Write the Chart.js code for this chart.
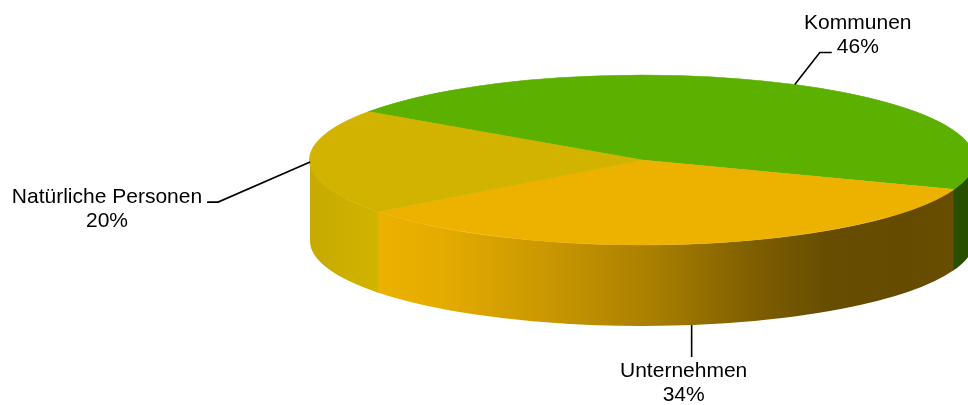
<!DOCTYPE html>
<html>
<head>
<meta charset="utf-8">
<script src="https://cdn.jsdelivr.net/npm/chart.js@4/dist/chart.umd.min.js"></script>
<style>
  html, body { margin: 0; padding: 0; background: #ffffff; }
  #wrap { position: relative; width: 968px; height: 405px; }
</style>
</head>
<body>
<div id="wrap"><canvas id="chart"></canvas></div>
<script>
// Shares of the three owner groups
const categories = ['Kommunen', 'Unternehmen', 'Natürliche Personen'];
const shares = [46, 34, 20];

// Slice colours (top face)
const sliceColors = ['#5CB000', '#EDB200', '#D1B300'];

// Flattened pie geometry: top face ellipse and wall height
const PIE = { cx: 642, cy: 160, rx: 332, ry: 85, depth: 81 };

// Lighting across the outer wall, left to right: [position, brightness]
const wallLight = [[0, 0.95], [0.1, 1.0], [0.2, 0.96], [0.36, 0.85], [0.52, 0.71],
                   [0.67, 0.53], [0.78, 0.43], [0.9, 0.42], [1, 0.45]];

// Leader line and label placement per slice
const labelLayout = [
  { rim: 'top',    elbow: [25, -32], run: 12,  side: 'right' },
  { rim: 'bottom', elbow: [0, 32],   run: 0,   side: 'below' },
  { rim: 'top',    elbow: [-92, 40], run: -11, side: 'left' }
];

const FONT = '21px "Liberation Sans", Arial, sans-serif';
const LINE_H = 24;

function shade(hex, f) {
  const n = parseInt(hex.slice(1), 16);
  const r = Math.round(((n >> 16) & 255) * f);
  const g = Math.round(((n >> 8) & 255) * f);
  const b = Math.round((n & 255) * f);
  return `rgb(${r},${g},${b})`;
}

const pie3d = {
  id: 'pie3d',
  beforeDatasetsDraw(chart) {
    const ctx = chart.ctx;
    const meta = chart.getDatasetMeta(0);
    const { cx, cy, rx, ry, depth } = PIE;

    // outer wall: only the front half (0..PI) is visible
    meta.data.forEach((arc, i) => {
      const a0 = arc.startAngle, a1 = arc.endAngle;
      for (let k = -1; k <= 2; k++) {
        const lo = 2 * Math.PI * k, hi = lo + Math.PI;
        const s = Math.max(a0, lo);
        // small overlap so neighbouring wall pieces leave no seam
        const e = Math.min(a1 + 0.006, hi);
        if (e <= s) continue;
        const grad = ctx.createLinearGradient(cx - rx, 0, cx + rx, 0);
        wallLight.forEach(([t, f]) => grad.addColorStop(t, shade(sliceColors[i], f)));
        ctx.beginPath();
        ctx.ellipse(cx, cy, rx, ry, 0, s, e);
        ctx.ellipse(cx, cy + depth, rx, ry, 0, e, s, true);
        ctx.closePath();
        ctx.fillStyle = grad;
        ctx.fill();
      }
    });

    // map the circular layout onto the flattened top face
    const ref = meta.data[0];
    ctx.save();
    ctx.translate(cx, cy);
    ctx.scale(rx / ref.outerRadius, ry / ref.outerRadius);
    ctx.translate(-ref.x, -ref.y);
  },
  afterDatasetsDraw(chart) {
    const ctx = chart.ctx;
    ctx.restore();

    const meta = chart.getDatasetMeta(0);
    const { cx, cy, rx, ry, depth } = PIE;
    ctx.save();
    ctx.font = FONT;
    ctx.fillStyle = '#000';
    ctx.strokeStyle = '#000';
    ctx.lineWidth = 1.6;
    ctx.textBaseline = 'alphabetic';
    ctx.textAlign = 'center';

    meta.data.forEach((arc, i) => {
      const lay = labelLayout[i];
      const mid = (arc.startAngle + arc.endAngle) / 2;
      const ax = cx + rx * Math.cos(mid);
      const ay = cy + ry * Math.sin(mid) + (lay.rim === 'bottom' ? depth : 0);
      const bx = ax + lay.elbow[0], by = ay + lay.elbow[1];
      const ex = bx + lay.run, ey = by;

      ctx.beginPath();
      ctx.moveTo(ax, ay);
      ctx.lineTo(bx, by);
      if (lay.run !== 0) ctx.lineTo(ex, ey);
      ctx.stroke();

      const line1 = categories[i];
      const line2 = shares[i] + '%';
      const w1 = ctx.measureText(line1).width;
      const w2 = ctx.measureText(line2).width;
      let tx, b1;
      if (lay.side === 'right') {
        tx = ex + 5 + w2 / 2;
        b1 = ey - LINE_H;
      } else if (lay.side === 'left') {
        tx = ex - 5 - w1 / 2;
        b1 = ey + 1;
      } else {
        tx = ex - 8;
        b1 = ey + 20;
      }
      ctx.fillText(line1, tx, b1);
      ctx.fillText(line2, tx, b1 + LINE_H);
    });
    ctx.restore();
  }
};

new Chart(document.getElementById('chart'), {
  type: 'pie',
  data: {
    labels: categories,
    datasets: [{
      data: shares,
      backgroundColor: sliceColors,
      borderColor: sliceColors,
      borderWidth: 1,
      clip: false
    }]
  },
  options: {
    responsive: true,
    maintainAspectRatio: false,
    animation: false,
    events: [],
    rotation: -55.4,
    layout: { padding: 20 },
    plugins: {
      legend: { display: false },
      tooltip: { enabled: false }
    }
  },
  plugins: [pie3d]
});
</script>
</body>
</html>
